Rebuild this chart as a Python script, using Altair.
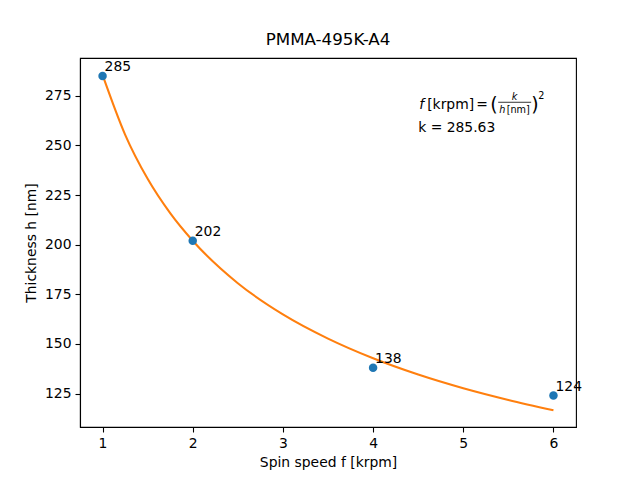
import altair as alt
import pandas as pd

# Measured points
speed = [1, 2, 4, 6]
thickness = [285, 202, 138, 124]
labels = ["285", "202", "138", "124"]

# Fitted curve
curve_f = [1, 1.25, 1.5, 1.75, 2, 2.5, 3, 3.5, 4, 4.5, 5, 5.5, 6]
curve_h = [285.6, 255.5, 233.2, 215.9, 202.0, 180.6, 164.9, 152.7, 142.8, 134.6, 127.7, 121.8, 116.6]

# Annotation anchor (data coordinates)
ann_x = [4.5]
ann_y = [268.5]
k_text = "k = 285.63"

FONT = "DejaVu Sans"
FS = 13.9
SMALL = 9.7

pts = pd.DataFrame({"f": speed, "h": thickness, "lab": labels})
cur = pd.DataFrame({"f": curve_f, "h": curve_h})
ann = pd.DataFrame({"f": ann_x, "h": ann_y})

xs = alt.Scale(domain=[0.75, 6.25], nice=False, zero=False)
ys = alt.Scale(domain=[108.15, 294.08], nice=False, zero=False)

xenc = alt.X("f:Q", scale=xs, title="Spin speed f [krpm]",
             axis=alt.Axis(values=[1, 2, 3, 4, 5, 6], format="d"))
yenc = alt.Y("h:Q", scale=ys, title="Thickness h [nm]",
             axis=alt.Axis(values=[125, 150, 175, 200, 225, 250, 275], format="d"))

line = alt.Chart(cur).mark_line(color="#ff7f0e", strokeWidth=2.08, interpolate="monotone").encode(x=xenc, y=yenc)
dots = alt.Chart(pts).mark_circle(color="#1f77b4", size=72, opacity=1).encode(x=xenc, y=yenc)
labs = alt.Chart(pts).mark_text(align="left", baseline="alphabetic", dx=2, dy=-5,
                                font=FONT, fontSize=FS, color="black").encode(x=xenc, y=yenc, text="lab:N")

def t(txt, dx, dy=0, size=FS, italic=False):
    return alt.Chart(ann).mark_text(
        align="left", baseline="alphabetic", dx=dx, dy=dy, font=FONT, fontSize=size,
        fontStyle="italic" if italic else "normal", color="black", text=txt
    ).encode(x=alt.X("f:Q", scale=xs), y=alt.Y("h:Q", scale=ys))

formula = [
    t("f", 1, italic=True),
    t("[krpm]", 9),
    t("=", 58),
    t("(", 72, dy=2, size=19),
    t("k", 93.5, dy=-8.5, size=SMALL, italic=True),
    t("h", 81, dy=4, size=SMALL, italic=True),
    t("[nm]", 88.5, dy=4, size=SMALL),
    t(")", 113, dy=2, size=19),
    t("2", 120, dy=-10, size=SMALL),
    t(k_text, 0, dy=23),
]
bar = alt.Chart(ann).mark_rule(color="black", strokeWidth=0.8, xOffset=80, x2Offset=113,
                               yOffset=-6.5, y2Offset=-6.5).encode(
    x=alt.X("f:Q", scale=xs), x2="f:Q", y=alt.Y("h:Q", scale=ys), y2="h:Q")

chart = alt.layer(line, dots, labs, bar, *formula).properties(
    width=496, height=369,
    background="white",
    title=alt.TitleParams("PMMA-495K-A4", font=FONT, fontSize=16.7, fontWeight="normal",
                          color="black", anchor="middle", offset=9),
    autosize=alt.AutoSizeParams(type="none"),
    padding={"left": 72, "top": 50, "right": 56, "bottom": 45},
).configure_view(stroke="black", strokeWidth=1.1).configure_axis(
    grid=False, domainColor="black", domainWidth=1.1, tickColor="black", tickWidth=1.1,
    tickSize=5, labelPadding=4, labelFont=FONT, labelFontSize=FS, labelColor="black",
    titleFont=FONT, titleFontSize=FS, titleFontWeight="normal", titleColor="black",
).configure_axisX(titlePadding=6, labelAngle=0).configure_axisY(titlePadding=6)

chart.save("out.html", embed_options={"renderer": "svg", "actions": False})
